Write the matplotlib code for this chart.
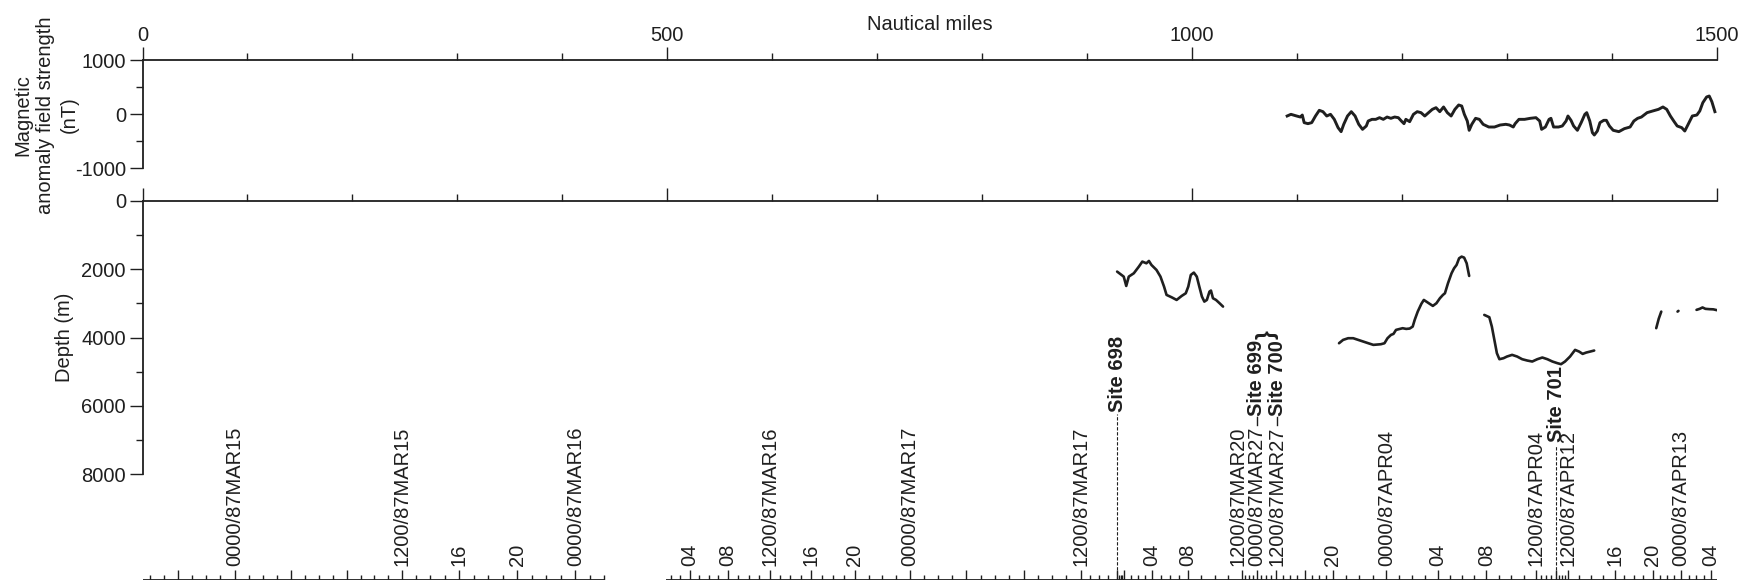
"""Magnetic anomaly and bathymetry along the ship track, with track times and site stops."""

import matplotlib

matplotlib.use("Agg")
import matplotlib.pyplot as plt
import numpy as np
from matplotlib.ticker import FixedLocator, MultipleLocator

plt.rcParams["font.family"] = ["Liberation Sans", "DejaVu Sans"]
plt.rcParams["axes.unicode_minus"] = False

INK = "#1f1f1f"
FS = 14.5

# distance axis (nautical miles)
mile_ticks = [0, 500, 1000, 1500]

# magnetic anomaly profile
mag_nm = [1090.5, 1094.1, 1099.5, 1103.1, 1104.9, 1106.7, 1110.3, 1113.9, 1117.5, 1121.1,
          1124.6, 1128.2, 1131.8, 1135.4, 1139.0, 1141.9, 1144.4, 1148.0, 1151.6, 1155.2,
          1158.7, 1162.3, 1165.9, 1167.7, 1171.3, 1174.9, 1178.5, 1182.1, 1185.7, 1189.3,
          1192.9, 1196.4, 1199.3, 1201.8, 1203.6, 1207.2, 1210.8, 1214.4, 1218.0, 1221.6,
          1225.2, 1228.8, 1232.3, 1235.9, 1239.5, 1243.1, 1246.7, 1250.3, 1253.9, 1256.8,
          1259.3, 1262.1, 1263.9, 1266.4, 1270.0, 1273.6, 1277.2, 1282.6, 1288.0, 1293.4,
          1298.8, 1302.3, 1305.9, 1307.7, 1311.3, 1316.7, 1322.1, 1327.5, 1331.1, 1332.9,
          1336.5, 1340.0, 1341.8, 1344.3, 1349.0, 1352.6, 1356.2, 1358.0, 1360.9, 1363.4,
          1367.0, 1370.6, 1374.1, 1375.9, 1378.8, 1381.3, 1383.1, 1386.0, 1388.5, 1392.1,
          1394.6, 1397.5, 1401.1, 1406.5, 1411.8, 1417.2, 1420.8, 1424.4, 1428.0, 1433.4,
          1438.8, 1444.2, 1448.5, 1452.1, 1455.6, 1459.2, 1462.1, 1466.4, 1469.3, 1472.2,
          1476.5, 1480.8, 1483.6, 1486.5, 1490.1, 1492.6, 1495.1, 1498.0]
mag_nt = [-37, -6, -37, -56, -19, -160, -179, -160, -37, 68,
          43, -37, -6, -99, -253, -327, -191, -37, 43, -37,
          -191, -284, -222, -130, -99, -99, -68, -99, -56, -80,
          -56, -68, -130, -179, -99, -142, -6, 43, 25, -37,
          25, 86, 117, 43, 130, 25, -37, 86, 167, 148,
          -6, -130, -302, -191, -80, -99, -191, -241, -241, -204,
          -191, -204, -241, -179, -99, -99, -80, -68, -130, -284,
          -241, -99, -80, -241, -241, -222, -130, -37, -117, -222,
          -302, -160, -6, 25, -130, -346, -389, -315, -160, -117,
          -117, -222, -302, -327, -271, -241, -130, -80, -56, 25,
          56, 86, 130, 86, -37, -142, -222, -253, -315, -204,
          -37, -19, 56, 210, 315, 333, 228, 43]

# bathymetry, one list pair per surveyed stretch
depth_nm_a = [928.5, 934.8, 937.2, 939.6, 944.4, 949.2, 952.5, 956.4, 958.8, 961.2,
              966.0, 969.8, 973.2, 975.6, 980.4, 985.2, 990.0, 993.9, 996.3, 998.7,
              1001.6, 1004.4, 1006.8, 1009.3, 1011.6, 1014.0, 1016.5, 1017.9, 1019.8, 1022.7,
              1026.1, 1029.4]
depth_m_a = [2069, 2216, 2489, 2216, 2118, 1923, 1776, 1825, 1757, 1874,
             2020, 2216, 2508, 2752, 2821, 2899, 2782, 2704, 2508, 2167,
             2098, 2216, 2508, 2801, 2948, 2899, 2655, 2625, 2850, 2899,
             2996, 3094]

depth_nm_b = [1139.9, 1143.8, 1148.6, 1153.4, 1158.2, 1163.0, 1167.8, 1172.6, 1179.8, 1183.2,
              1186.1, 1189.4, 1191.8, 1194.2, 1196.6, 1200.5, 1203.9, 1207.2, 1210.1, 1212.0,
              1214.9, 1218.3, 1220.7, 1223.1, 1226.4, 1229.3, 1232.7, 1236.0, 1238.9, 1240.8,
              1243.7, 1247.1, 1249.5, 1251.9, 1254.3, 1256.7, 1259.1, 1261.5, 1263.9]
depth_m_b = [4168, 4070, 4021, 4021, 4070, 4119, 4168, 4216, 4197, 4168,
             4021, 3924, 3894, 3777, 3758, 3728, 3748, 3738, 3680, 3484,
             3240, 3016, 2899, 2948, 3016, 3074, 2996, 2850, 2752, 2704,
             2411, 2118, 1972, 1874, 1679, 1630, 1659, 1825, 2196]

depth_nm_c = [1278.3, 1283.1, 1285.5, 1287.9, 1290.3, 1292.7, 1296.6, 1299.9, 1304.8, 1309.6,
              1314.4, 1319.2, 1324.0, 1328.8, 1333.6, 1338.4, 1343.2, 1348.0, 1351.4, 1355.2,
              1360.0, 1364.8, 1368.6, 1372.0, 1375.4, 1379.2, 1383.0]
depth_m_c = [3338, 3406, 3680, 4070, 4460, 4636, 4607, 4558, 4509, 4558,
             4636, 4675, 4704, 4636, 4587, 4636, 4704, 4753, 4782, 4704,
             4558, 4363, 4412, 4480, 4441, 4412, 4382]

depth_nm_d = [1442.1, 1444.5, 1446.9]
depth_m_d = [3727, 3450, 3241]
depth_nm_e = [1462.4, 1463.3]
depth_m_e = [3241, 3220]
depth_nm_f = [1480.5, 1483.5, 1486.2, 1489.0, 1492.9, 1496.5, 1500.0]
depth_m_f = [3190, 3160, 3120, 3160, 3170, 3175, 3200]

# ship track time marks (4-hourly), placed by distance run
track_segments_nm = [(0.0, 439.5), (499.2, 1500.0)]
time_nm = [33.8, 87.8, 141.0, 194.8, 247.1, 301.4, 357.2, 412.4,
           521.4, 557.6, 597.6, 636.7, 678.6, 731.0, 784.8, 839.5, 893.8, 928.6,
           935.0, 961.4, 995.7, 1047.1, 1061.4, 1079.5, 1107.1, 1133.8, 1185.0, 1233.8,
           1280.2, 1327.8, 1346.9, 1357.6, 1402.4, 1438.6, 1465.9, 1494.5]
time_labels = ["", "0000/87MAR15", "", "", "1200/87MAR15", "16", "20", "0000/87MAR16",
               "04", "08", "1200/87MAR16", "16", "20", "0000/87MAR17", "", "", "1200/87MAR17", "",
               "", "04", "08", "1200/87MAR20", "0000/87MAR27", "1200/87MAR27", "", "20",
               "0000/87APR04", "04",
               "08", "1200/87APR04", "", "1200/87APR12", "16", "20", "0000/87APR13", "04"]

# drill sites marked with a dashed leader
site_names = ["Site 698", "Site 701"]
site_nm = [928.6, 1346.9]
site_leader_top = [166, 135]

# sites written after a time label in the same column
paired_site_names = ["Site 699", "Site 700"]
paired_site_labels = ["0000/87MAR27", "1200/87MAR27"]

# small sideways nudges (nmi) for labels packed into the same few miles
label_nudge = {"1200/87MAR20": -3.5, "1200/87MAR27": 1.5}

W, H, DPI = 1741, 581, 100
X0, X1 = 142.5, 1717.0


def px_box(left, top, right, bottom):
    return [left / W, 1 - bottom / H, (right - left) / W, (bottom - top) / H]


def style_profile_axes(ax, yticks, yminor):
    ax.set_xlim(0, 1500)
    ax.patch.set_visible(False)
    ax.spines["right"].set_visible(False)
    ax.spines["bottom"].set_visible(False)
    for side in ("top", "left"):
        ax.spines[side].set_linewidth(1.3)
        ax.spines[side].set_color(INK)
    ax.xaxis.set_ticks_position("top")
    ax.xaxis.set_major_locator(FixedLocator(mile_ticks))
    ax.xaxis.set_minor_locator(MultipleLocator(100))
    ax.yaxis.set_major_locator(FixedLocator(yticks))
    ax.yaxis.set_minor_locator(FixedLocator(yminor))
    ax.set_yticklabels([str(v) for v in yticks])
    ax.tick_params(which="major", length=9.4, width=1.0, color=INK,
                   labelsize=FS, labelcolor=INK)
    ax.tick_params(axis="x", which="major", pad=1.5)
    ax.tick_params(axis="y", which="major", pad=2.5)
    ax.tick_params(which="minor", length=4.8, width=1.0, color=INK)


def main() -> None:
    fig = plt.figure(figsize=(W / DPI, H / DPI), dpi=DPI)
    fig.patch.set_facecolor("white")

    mag_ax = fig.add_axes(px_box(X0, 60, X1, 168))
    dep_ax = fig.add_axes(px_box(X0, 201, X1, 474))
    time_ax = fig.add_axes(px_box(X0, 380, X1, 579.5))

    # magnetics
    mag_ax.set_ylim(-1000, 1000)
    style_profile_axes(mag_ax, [-1000, 0, 1000], [-500, 500])
    mag_ax.set_xticklabels([str(v) for v in mile_ticks])
    mag_ax.xaxis.set_label_position("top")
    mag_ax.set_xlabel("Nautical miles", fontsize=FS, color=INK, labelpad=-3)
    mag_ax.plot(mag_nm, mag_nt, color=INK, lw=2.1, solid_joinstyle="round")

    # bathymetry
    dep_ax.set_ylim(8000, 0)
    style_profile_axes(dep_ax, [0, 2000, 4000, 6000, 8000], [1000, 3000, 5000, 7000])
    dep_ax.tick_params(axis="x", labeltop=False)
    for xs, ys in [(depth_nm_a, depth_m_a), (depth_nm_b, depth_m_b), (depth_nm_c, depth_m_c),
                   (depth_nm_d, depth_m_d), (depth_nm_e, depth_m_e), (depth_nm_f, depth_m_f)]:
        dep_ax.plot(xs, ys, color=INK, lw=1.9, solid_capstyle="round", solid_joinstyle="round")

    fig.text(46 / W, 1 - 115 / H, "Magnetic\nanomaly field strength\n(nT)", rotation=90,
             ha="center", va="center", multialignment="center", fontsize=FS, color=INK,
             linespacing=1.3)
    fig.text(64 / W, 1 - 337 / H, "Depth (m)", rotation=90, ha="center", va="center",
             fontsize=FS, color=INK)

    # time axis along the track (y in pixels above the baseline)
    time_ax.set_xlim(0, 1500)
    time_ax.set_ylim(0, 579.5 - 380)
    time_ax.axis("off")
    for a, b in track_segments_nm:
        time_ax.plot([a, b], [0, 0], color=INK, lw=1.3, solid_capstyle="butt")

    def segment_of(x):
        for i, (a, b) in enumerate(track_segments_nm):
            if a - 1 <= x <= b + 1:
                return i
        return -1

    # hourly marks between the 4-hourly ones
    minor = []
    for i in range(len(time_nm) - 1):
        a, b = time_nm[i], time_nm[i + 1]
        if segment_of(a) == segment_of(b):
            minor.extend(np.linspace(a, b, 5)[1:-1])
    for seg_i, (a, b) in enumerate(track_segments_nm):
        marks = [t for t in time_nm if segment_of(t) == seg_i]
        step_lo = (marks[1] - marks[0]) / 4
        step_hi = (marks[-1] - marks[-2]) / 4
        t = marks[0] - step_lo
        while t >= a - 0.5:
            minor.append(t)
            t -= step_lo
        t = marks[-1] + step_hi
        while t <= b + 0.5:
            minor.append(t)
            t += step_hi

    time_ax.vlines(minor, 0, 5, color=INK, lw=1.0)
    time_ax.vlines(time_nm, 0, 10, color=INK, lw=1.0)

    label_artists = {}
    for x, lab in zip(time_nm, time_labels):
        if lab:
            label_artists[lab] = time_ax.text(x + label_nudge.get(lab, 0.0), 14, lab,
                                              rotation=90, ha="center", va="bottom",
                                              fontsize=FS, color=INK)

    for name, x, top in zip(site_names, site_nm, site_leader_top):
        time_ax.plot([x, x], [0, top], color=INK, lw=0.8, ls=(0, (3, 1.5)))
        time_ax.text(x, top + 2, name, rotation=90, ha="center", va="bottom", fontsize=FS,
                     fontweight="bold", color=INK)

    fig.canvas.draw()
    renderer = fig.canvas.get_renderer()
    to_data = time_ax.transData.inverted()
    tops = []
    pair_x = []
    for name, lab in zip(paired_site_names, paired_site_labels):
        txt = label_artists[lab]
        bb = txt.get_window_extent(renderer)
        x = time_nm[time_labels.index(lab)] + label_nudge.get(lab, 0.0)
        pair_x.append(x)
        y_top = to_data.transform((bb.x0, bb.y1))[1]
        time_ax.plot([x, x], [y_top + 1, y_top + 9], color=INK, lw=1.0)
        site_txt = time_ax.text(x, y_top + 10, name, rotation=90, ha="center", va="bottom",
                                fontsize=FS, fontweight="bold", color=INK)
        sb = site_txt.get_window_extent(renderer)
        tops.append(to_data.transform((sb.x0, sb.y1))[1])
    time_ax.text(np.mean(pair_x), max(tops) + 1, "}", rotation=90, ha="center", va="bottom",
                 fontsize=FS + 2, fontweight="bold", color=INK)

    fig.savefig("out.png", dpi=DPI, facecolor="white")


if __name__ == "__main__":
    main()
